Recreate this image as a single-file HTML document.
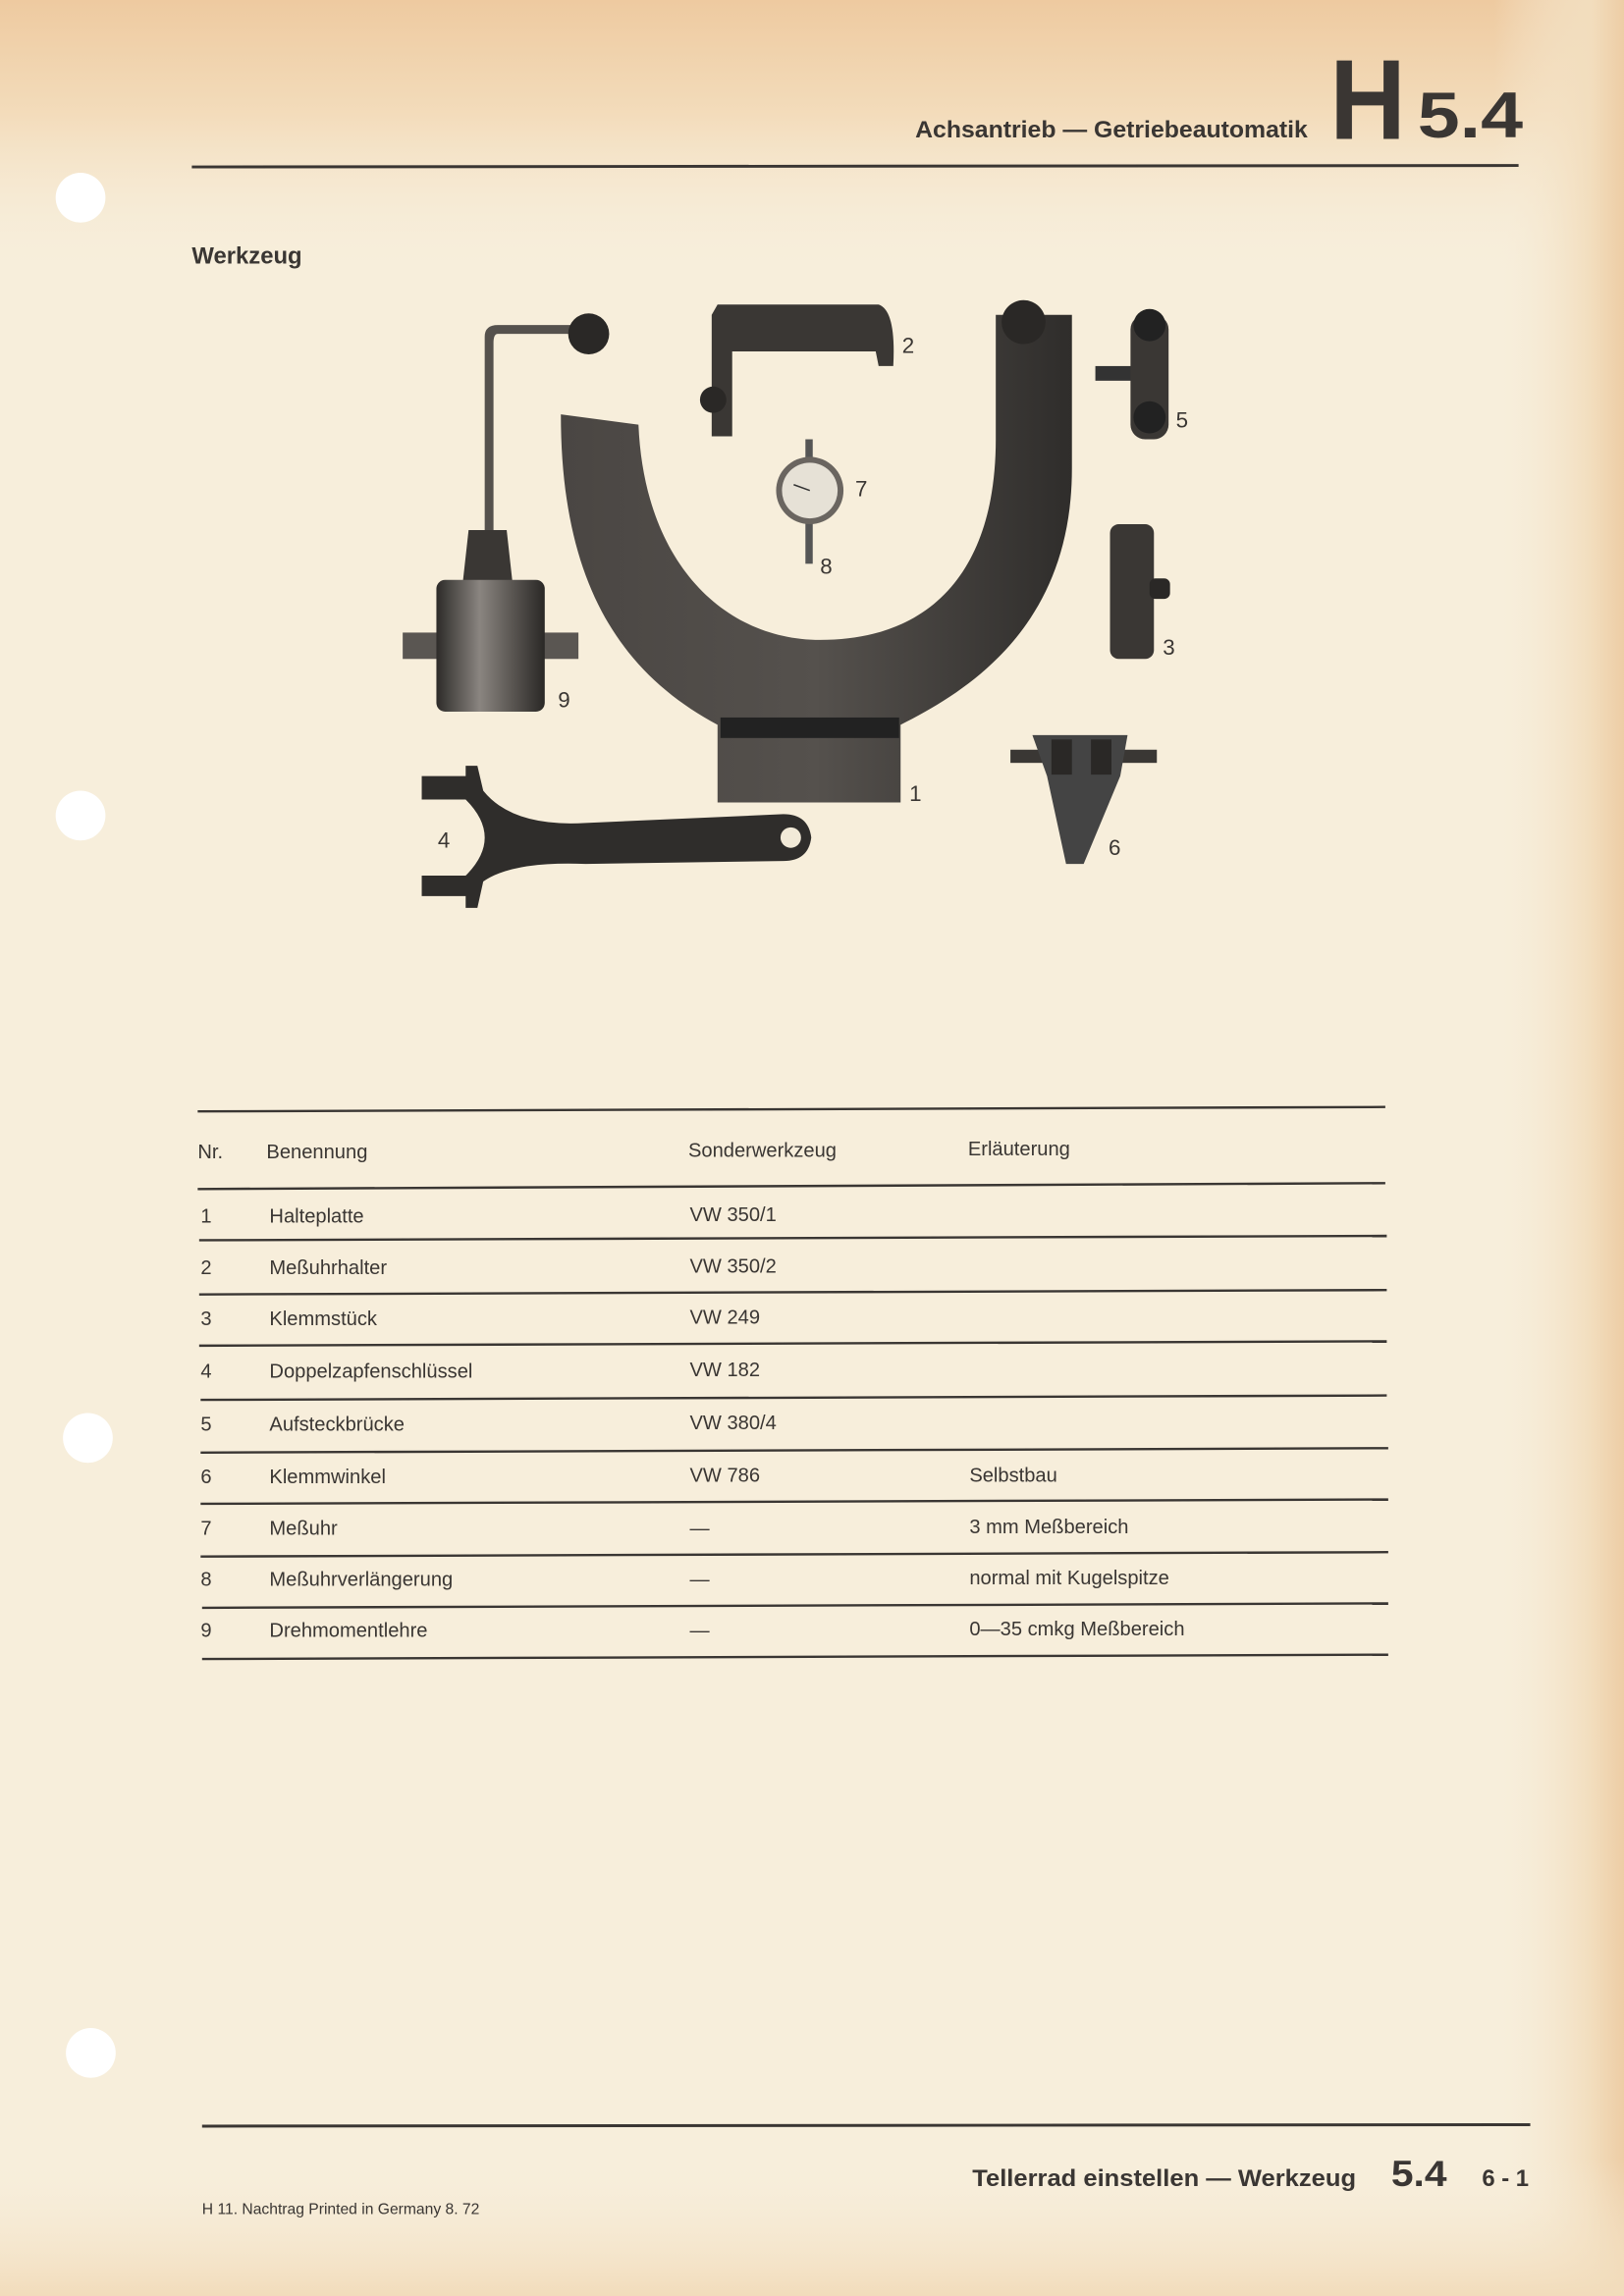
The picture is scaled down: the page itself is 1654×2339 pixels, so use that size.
<!DOCTYPE html>
<html><head><meta charset="utf-8"><style>
html,body{margin:0;padding:0;}
body{width:1654px;height:2339px;overflow:hidden;background:#f7eedb;}
svg{display:block}
text{font-family:"Liberation Sans",sans-serif;fill:#3a3633;}
</style></head><body>
<svg width="1654" height="2339" viewBox="0 0 1109 1568" preserveAspectRatio="none">
<defs>
<linearGradient id="top" x1="0" y1="0" x2="0" y2="1">
<stop offset="0" stop-color="#eecaa0"/><stop offset="0.05" stop-color="#f3dcbb"/><stop offset="0.12" stop-color="#f7eedb" stop-opacity="0"/></linearGradient>
<linearGradient id="right" x1="0" y1="0" x2="1" y2="0">
<stop offset="0.92" stop-color="#f7eedb" stop-opacity="0"/><stop offset="0.98" stop-color="#f2ddbd"/><stop offset="1" stop-color="#edcda5"/></linearGradient>
<linearGradient id="bot" x1="0" y1="0" x2="0" y2="1">
<stop offset="0.94" stop-color="#f7eedb" stop-opacity="0"/><stop offset="1" stop-color="#f2dcbb"/></linearGradient>
<linearGradient id="metal" x1="0" y1="0" x2="1" y2="0">
<stop offset="0" stop-color="#4a4643"/><stop offset="0.5" stop-color="#55514d"/><stop offset="1" stop-color="#2f2d2b"/></linearGradient>
<linearGradient id="drum" x1="0" y1="0" x2="1" y2="0">
<stop offset="0" stop-color="#2d2b29"/><stop offset="0.4" stop-color="#8a8580"/><stop offset="0.7" stop-color="#5a5652"/><stop offset="1" stop-color="#2a2826"/></linearGradient>
</defs>
<rect width="1109" height="1568" fill="#f7eedb"/>
<rect width="1109" height="1568" fill="url(#top)"/>
<rect width="1109" height="1568" fill="url(#right)"/>
<rect width="1109" height="1568" fill="url(#bot)"/>
<circle cx="55" cy="135" r="17" fill="#fff"/>
<circle cx="55" cy="557" r="17" fill="#fff"/>
<circle cx="60" cy="982" r="17" fill="#fff"/>
<circle cx="62" cy="1402" r="17" fill="#fff"/>

<text x="893" y="94" text-anchor="end" font-size="16" font-weight="bold" textLength="268" lengthAdjust="spacingAndGlyphs">Achsantrieb — Getriebeautomatik</text>
<text x="908" y="95" font-size="78" font-weight="bold" fill="#2e2b29" textLength="52" lengthAdjust="spacingAndGlyphs">H</text>
<text x="968" y="94" font-size="44" font-weight="bold" fill="#2e2b29" textLength="72" lengthAdjust="spacingAndGlyphs">5.4</text>
<line x1="131" y1="114" x2="1037" y2="113" stroke="#3a3633" stroke-width="2"/>
<text x="131" y="180" font-size="16" font-weight="bold">Werkzeug</text>

<path d="M383,283 L436,290 C440,385 495,437 560,437 C640,437 680,385 680,300 L680,215 L732,215 L732,320 C732,425 665,470 615,495 L615,548 L490,548 L490,495 C425,460 383,400 383,283 Z" fill="url(#metal)"/>
<rect x="492" y="490" width="122" height="14" fill="#222"/>
<circle cx="699" cy="220" r="15" fill="#2a2826"/>
<path d="M490,208 L600,208 Q612,212 610,250 L600,250 L598,240 L500,240 L500,298 L486,298 L486,215 Z" fill="#3a3734"/>
<circle cx="487" cy="273" r="9" fill="#2a2826"/>
<rect x="550" y="300" width="5" height="85" fill="#555"/>
<circle cx="553" cy="335" r="23" fill="#6a6560"/>
<circle cx="553" cy="335" r="19" fill="#e6e1d6"/>
<line x1="553" y1="335" x2="542" y2="331" stroke="#333" stroke-width="1"/>
<path d="M331,365 L331,230 Q331,222 340,222 L398,222 L398,228 L340,228 Q337,228 337,234 L337,365 Z" fill="#55514d"/>
<circle cx="402" cy="228" r="14" fill="#2a2826"/>
<path d="M320,362 L346,362 L350,398 L316,398 Z" fill="#3a3734"/>
<rect x="275" y="432" width="120" height="18" fill="#5a5652"/>
<rect x="298" y="396" width="74" height="90" rx="6" fill="url(#drum)"/>
<path d="M288,530 L318,530 L318,523 L326,523 L330,540 Q350,565 400,562 L535,556 Q552,556 554,572 Q552,588 535,588 L400,590 Q350,588 330,602 L326,620 L318,620 L318,612 L288,612 L288,598 L318,598 Q344,572 318,546 L288,546 Z" fill="#2f2d2b"/>
<circle cx="540" cy="572" r="7" fill="#f2ead8"/>
<rect x="748" y="250" width="30" height="10" fill="#333"/>
<rect x="772" y="215" width="26" height="85" rx="10" fill="#3a3734"/>
<circle cx="785" cy="222" r="11" fill="#222"/>
<circle cx="785" cy="285" r="11" fill="#222"/>
<rect x="758" y="358" width="30" height="92" rx="6" fill="#3a3734"/>
<rect x="785" y="395" width="14" height="14" rx="4" fill="#2a2826"/>
<rect x="690" y="512" width="100" height="9" fill="#3a3734"/>
<path d="M705,502 L770,502 L765,530 L740,590 L728,590 L715,530 Z" fill="#444"/>
<rect x="718" y="505" width="14" height="24" fill="#2a2826"/>
<rect x="745" y="505" width="14" height="24" fill="#2a2826"/>
<g font-size="15">
<text x="616" y="241">2</text><text x="803" y="292">5</text><text x="584" y="339">7</text>
<text x="560" y="392">8</text><text x="794" y="447">3</text><text x="381" y="483">9</text>
<text x="621" y="547">1</text><text x="299" y="579">4</text><text x="757" y="584">6</text>
</g>

<g stroke="#3a3633" stroke-width="1.6">
<line x1="135" y1="759" x2="946" y2="756"/>
<line x1="135" y1="812" x2="946" y2="808"/>
<line x1="136" y1="847" x2="947" y2="844"/>
<line x1="136" y1="884" x2="947" y2="881"/>
<line x1="136" y1="919" x2="947" y2="916"/>
<line x1="137" y1="956" x2="947" y2="953"/>
<line x1="137" y1="992" x2="948" y2="989"/>
<line x1="137" y1="1027" x2="948" y2="1024"/>
<line x1="137" y1="1063" x2="948" y2="1060"/>
<line x1="138" y1="1098" x2="948" y2="1095"/>
<line x1="138" y1="1133" x2="948" y2="1130"/>
</g>
<g font-size="13.5">
<text x="135" y="791">Nr.</text><text x="182" y="791">Benennung</text><text x="470" y="790">Sonderwerkzeug</text><text x="661" y="789">Erläuterung</text>
<text x="137" y="835">1</text><text x="184" y="835">Halteplatte</text><text x="471" y="834">VW 350/1</text>
<text x="137" y="870">2</text><text x="184" y="870">Meßuhrhalter</text><text x="471" y="869">VW 350/2</text>
<text x="137" y="905">3</text><text x="184" y="905">Klemmstück</text><text x="471" y="904">VW 249</text>
<text x="137" y="941">4</text><text x="184" y="941">Doppelzapfenschlüssel</text><text x="471" y="940">VW 182</text>
<text x="137" y="977">5</text><text x="184" y="977">Aufsteckbrücke</text><text x="471" y="976">VW 380/4</text>
<text x="137" y="1013">6</text><text x="184" y="1013">Klemmwinkel</text><text x="471" y="1012">VW 786</text><text x="662" y="1012">Selbstbau</text>
<text x="137" y="1048">7</text><text x="184" y="1048">Meßuhr</text><text x="471" y="1048">—</text><text x="662" y="1047">3 mm Meßbereich</text>
<text x="137" y="1083">8</text><text x="184" y="1083">Meßuhrverlängerung</text><text x="471" y="1083">—</text><text x="662" y="1082">normal mit Kugelspitze</text>
<text x="137" y="1118">9</text><text x="184" y="1118">Drehmomentlehre</text><text x="471" y="1118">—</text><text x="662" y="1117">0—35 cmkg Meßbereich</text>
</g>

<line x1="138" y1="1452" x2="1045" y2="1451" stroke="#3a3633" stroke-width="2"/>
<text x="664" y="1493" font-size="16" font-weight="bold" textLength="262" lengthAdjust="spacingAndGlyphs">Tellerrad einstellen — Werkzeug</text>
<text x="950" y="1493" font-size="25" font-weight="bold" textLength="38" lengthAdjust="spacingAndGlyphs">5.4</text>
<text x="1012" y="1493" font-size="16" font-weight="bold">6 - 1</text>
<text x="138" y="1512" font-size="10.5">H 11. Nachtrag   Printed in Germany   8. 72</text>
</svg>
</body></html>
